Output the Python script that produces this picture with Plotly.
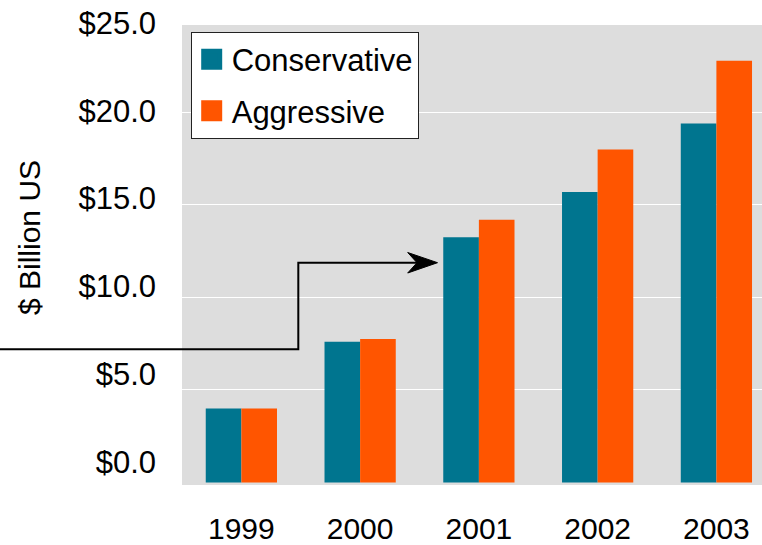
import plotly.graph_objects as go

# ---- data ----
years = ["1999", "2000", "2001", "2002", "2003"]
conservative = [4.0, 7.6, 13.25, 15.7, 19.4]
aggressive = [4.0, 7.75, 14.2, 18.0, 22.8]
grid_vals = [5, 10, 15, 20, 25]
label_vals = [0, 5, 10, 15, 20, 25]
label_text = ["$0.0", "$5.0", "$10.0", "$15.0", "$20.0", "$25.0"]

# ---- layout constants ----
W, H = 762, 545
ML, MR, MT, MB = 182, 0, 20, 60
PW = W - ML - MR
PH = H - MT - MB


def px_x(px):
    return (px - ML) / PW


def px_y(py):
    return (H - MB - py) / PH


TEAL = "#00758F"
ORANGE = "#FF5500"
BG = "#DDDDDD"
FONT = "Liberation Sans, Arial, sans-serif"
FS = 31

fig = go.Figure()
fig.add_bar(x=years, y=conservative, name="Conservative", marker_color=TEAL,
            marker_line_width=0, showlegend=False)
fig.add_bar(x=years, y=aggressive, name="Aggressive", marker_color=ORANGE,
            marker_line_width=0, showlegend=False)

# legend entries (square swatches); placed on the label axis so it is drawn
for nm, col, grp in [("Conservative", TEAL, "c"), ("Aggressive", ORANGE, "a")]:
    fig.add_scatter(x=[None], y=[None], mode="markers", name=nm, legendgroup=grp,
                    yaxis="y2", hoverinfo="skip",
                    marker=dict(symbol="square", size=16, color=col,
                                line=dict(color=col, width=5)))

shapes = [
    # hide thin strip above the plot area
    dict(type="rect", xref="paper", yref="paper", x0=0, x1=1,
         y0=px_y(25), y1=1.01, fillcolor="white", line_width=0, layer="above"),
    # elbow connector
    dict(type="path", xref="paper", yref="paper",
         path="M {:.5f},{:.5f} L {:.5f},{:.5f} L {:.5f},{:.5f} L {:.5f},{:.5f}".format(
             px_x(0), px_y(349.3), px_x(298.3), px_y(349.3),
             px_x(298.3), px_y(262.7), px_x(420), px_y(262.7)),
         line=dict(color="black", width=2)),
    # arrow head
    dict(type="path", xref="paper", yref="paper",
         path="M {:.5f},{:.5f} L {:.5f},{:.5f} L {:.5f},{:.5f} L {:.5f},{:.5f} Z".format(
             px_x(437.5), px_y(262.7), px_x(407.7), px_y(252.5),
             px_x(417), px_y(262.7), px_x(407.7), px_y(273)),
         fillcolor="black", line=dict(color="black", width=1)),
]

fig.update_layout(
    width=W, height=H, autosize=False,
    margin=dict(l=ML, r=MR, t=MT, b=MB, pad=0, autoexpand=False),
    paper_bgcolor="white", plot_bgcolor=BG,
    font=dict(family=FONT, size=FS, color="black"),
    barmode="group", bargap=0.4, bargroupgap=0,
    showlegend=True,
    legend=dict(x=px_x(190.7), y=px_y(31.7), xanchor="left", yanchor="top",
                bgcolor="white", bordercolor="#222222", borderwidth=1,
                font=dict(family=FONT, size=FS, color="black"),
                tracegroupgap=8),
    xaxis=dict(type="category", range=[-0.5, 4.384], showgrid=False,
               zeroline=False, showline=False, ticks="", automargin=False,
               tickfont=dict(family=FONT, size=30, color="black"),
               ticklabelstandoff=23),
    yaxis=dict(range=[-0.14, 25], tickvals=grid_vals, showticklabels=False,
               showgrid=True, gridcolor="white", gridwidth=1, automargin=False,
               zeroline=False, showline=False, ticks=""),
    yaxis2=dict(overlaying="y", side="left", anchor="x", range=[-1.31, 25.17],
                tickvals=label_vals, ticktext=label_text, showgrid=False,
                zeroline=False, showline=False, ticks="", automargin=False,
                tickfont=dict(family=FONT, size=FS, color="black"),
                ticklabelstandoff=25),
    shapes=shapes,
    annotations=[dict(text="$ Billion US", xref="paper", yref="paper",
                      x=px_x(29), y=px_y(237), textangle=-90, showarrow=False,
                      font=dict(family=FONT, size=30, color="black"),
                      xanchor="center", yanchor="middle")],
)

fig.write_html("out.html", config={"displayModeBar": False},
               post_script="document.body.style.margin='0';"
                           "document.body.style.overflow='hidden';")
